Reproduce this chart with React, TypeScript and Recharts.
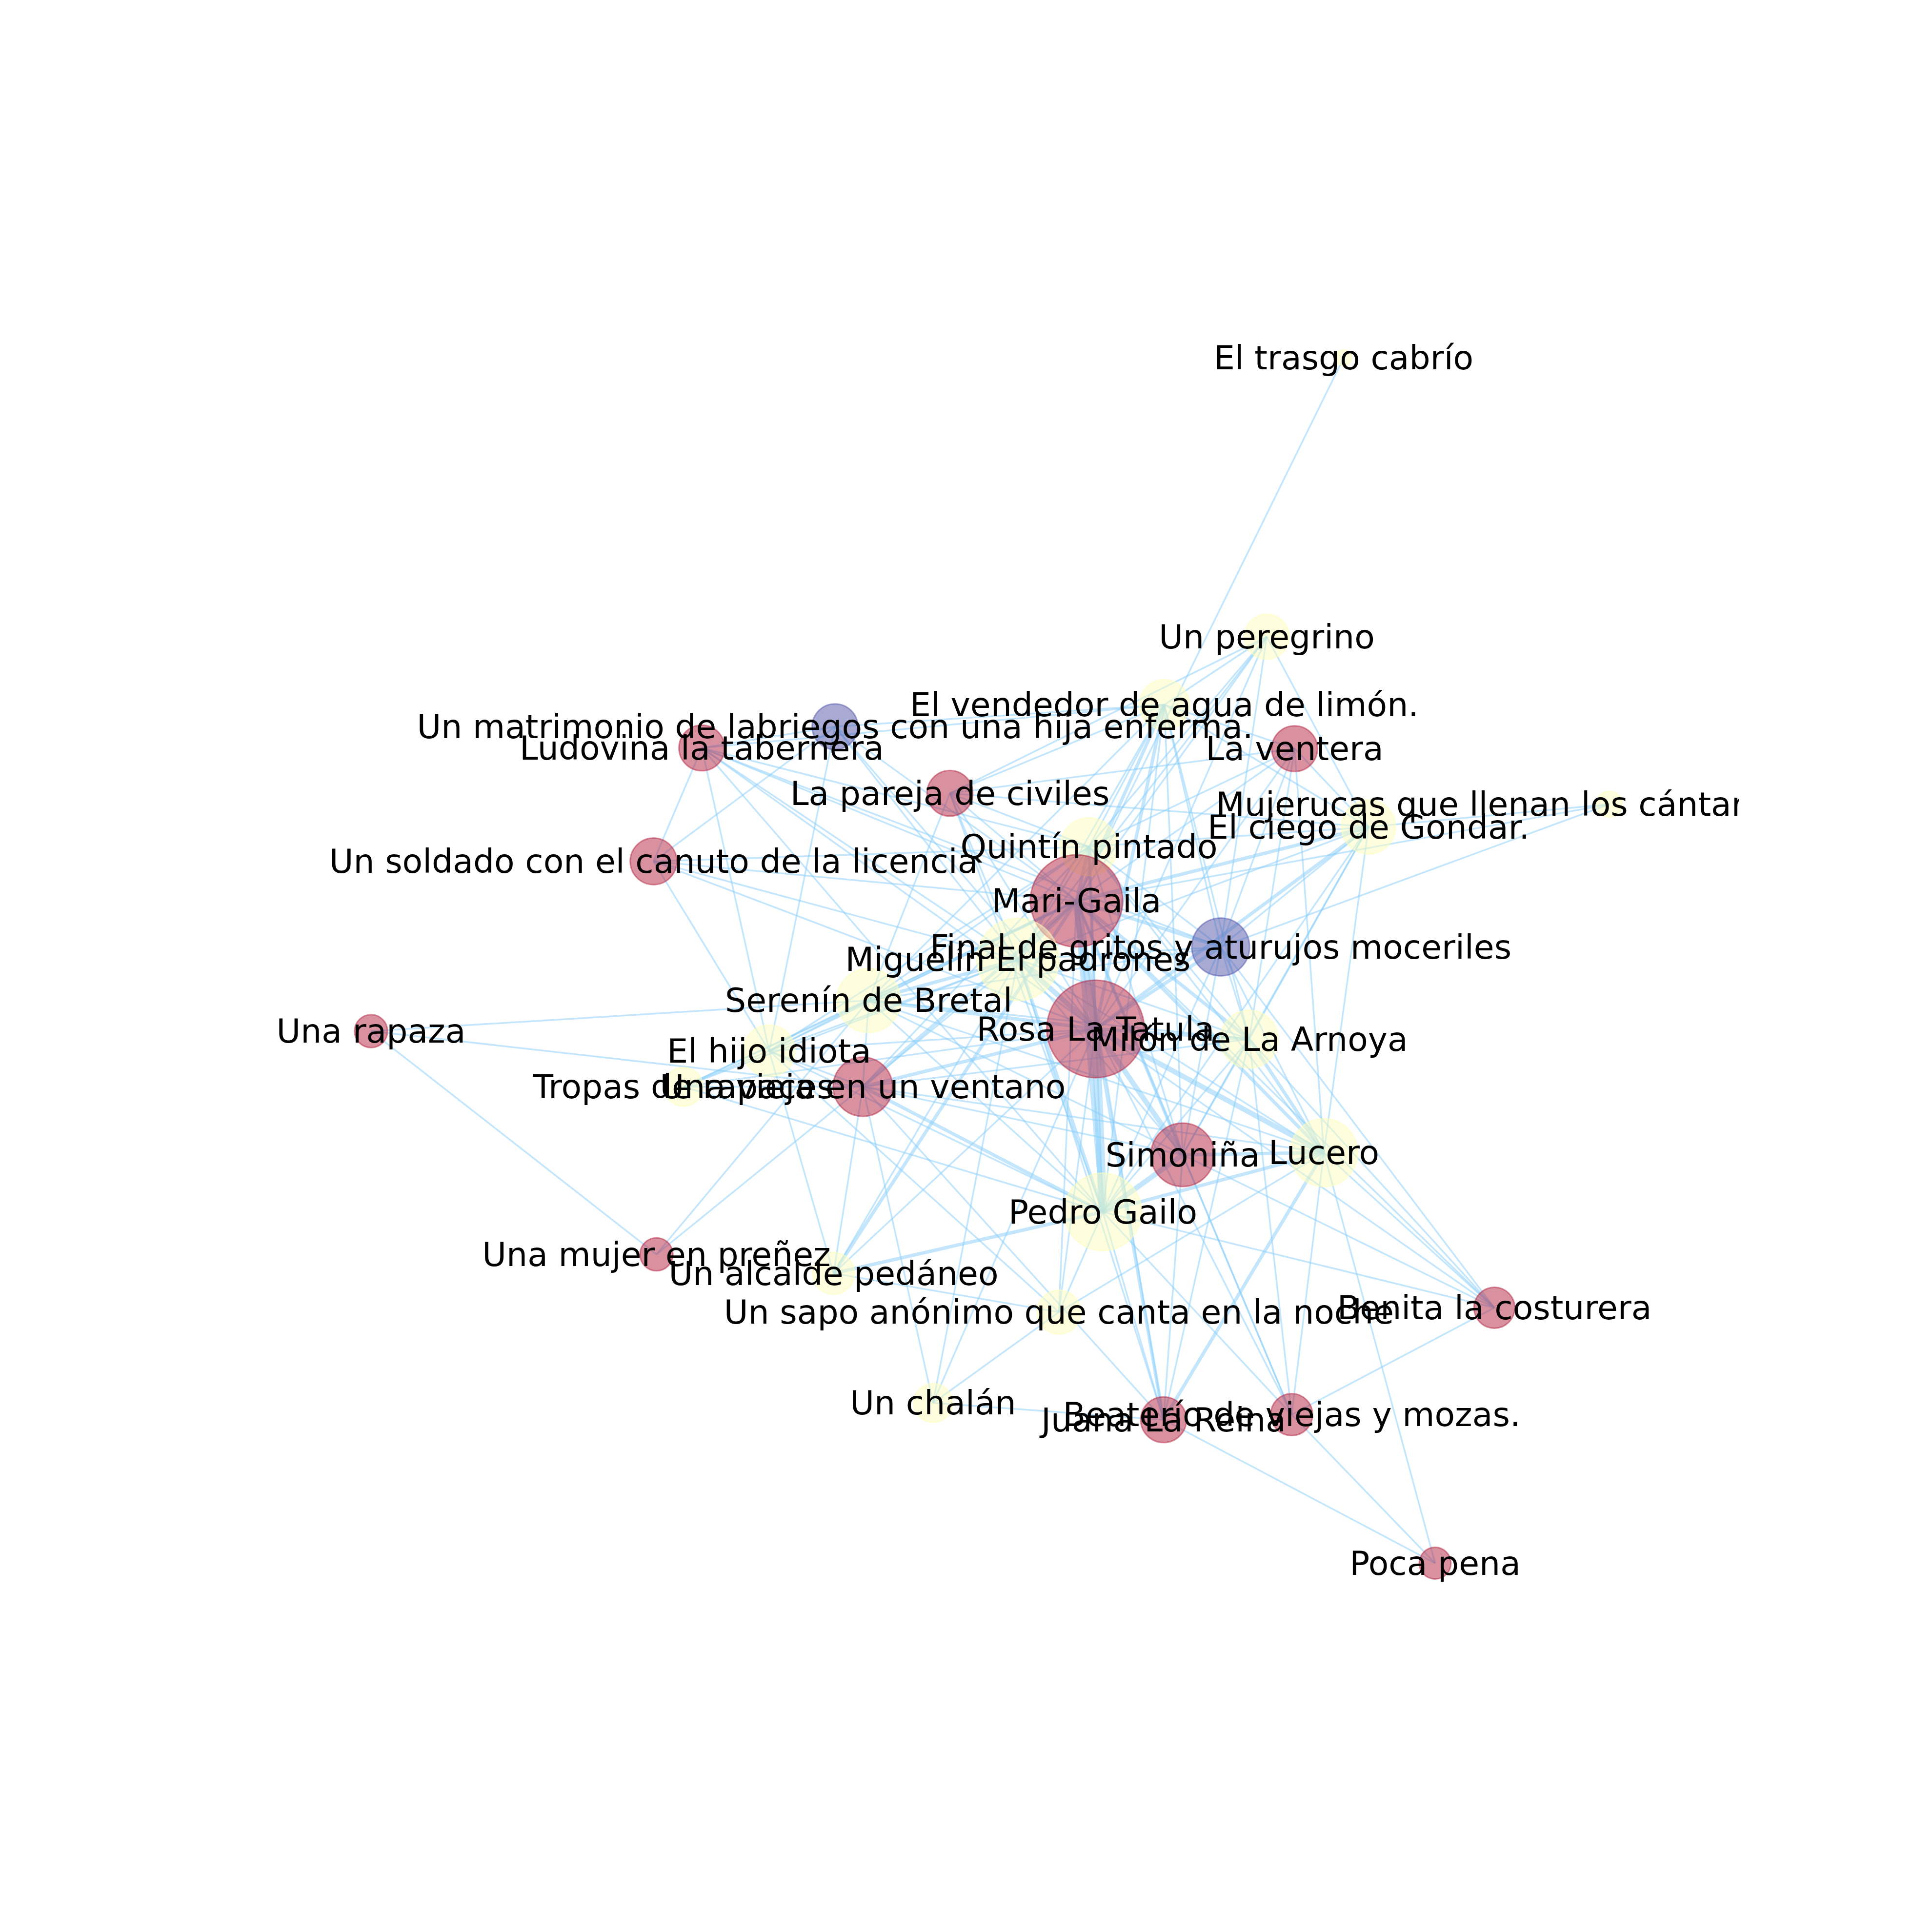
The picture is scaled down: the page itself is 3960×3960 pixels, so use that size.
import { ScatterChart, Scatter, XAxis, YAxis, ZAxis } from "recharts";

// character network: node ids, labels, layout position, weight and group
const nodeIds = [
  "TR", "PE", "VE", "MA", "LU", "VN", "PA", "MJ", "CI", "QU", "SO", "MG", "FI", "MI", "SE", "RA",
  "RO", "ML", "HI", "TP", "VI", "SI", "LC", "PG", "PR", "AL", "BE", "SA", "CH", "JU", "BT", "PP",
];

const nodeNames = [
  "El trasgo cabrío",
  "Un peregrino",
  "El vendedor de agua de limón.",
  "Un matrimonio de labriegos con una hija enferma.",
  "Ludovina la tabernera",
  "La ventera",
  "La pareja de civiles",
  "Mujerucas que llenan los cántaros en la fuente.",
  "El ciego de Gondar.",
  "Quintín pintado",
  "Un soldado con el canuto de la licencia",
  "Mari-Gaila",
  "Final de gritos y aturujos moceriles",
  "Miguelín El padrones",
  "Serenín de Bretal",
  "Una rapaza",
  "Rosa La Tatula",
  "Milón de La Arnoya",
  "El hijo idiota",
  "Tropas de rapaces",
  "Una vieja en un ventano",
  "Simoniña",
  "Lucero",
  "Pedro Gailo",
  "Una mujer en preñez",
  "Un alcalde pedáneo",
  "Benita la costurera",
  "Un sapo anónimo que canta en la noche",
  "Un chalán",
  "Juana La Reina",
  "Beaterío de viejas y mozas.",
  "Poca pena",
];

const nodeX = [
  0.516, 0.411, 0.271, -0.179, -0.361, 0.449, -0.022, 0.879, 0.55, 0.168, -0.427, 0.151, 0.348, 0.071, -0.133, -0.813,
  0.177, 0.387, -0.269, -0.386, -0.141, 0.296, 0.489, 0.187, -0.423, -0.181, 0.722, 0.127, -0.045, 0.27, 0.445, 0.641,
];

const nodeY = [
  0.831, 0.45, 0.357, 0.327, 0.298, 0.297, 0.236, 0.221, 0.19, 0.163, 0.143, 0.089, 0.026, 0.009, -0.047, -0.089,
  -0.086, -0.1, -0.116, -0.165, -0.165, -0.258, -0.255, -0.336, -0.394, -0.42, -0.467, -0.473, -0.597, -0.62, -0.613, -0.816,
];

const nodeWeight = [
  3, 24, 30, 25, 25, 25, 25, 8, 35, 40, 26, 102, 40, 81, 49, 13,
  114, 40, 32, 18, 42, 48, 55, 72, 13, 21, 20, 23, 18, 25, 21, 12,
];

const nodeGroup = [
  "hombre", "hombre", "hombre", "grupo", "mujer", "mujer", "mujer", "hombre", "hombre", "hombre", "mujer", "mujer", "grupo", "hombre", "hombre", "mujer",
  "mujer", "hombre", "hombre", "hombre", "mujer", "mujer", "hombre", "hombre", "mujer", "hombre", "mujer", "hombre", "hombre", "mujer", "mujer", "mujer",
];

// [source, target, co-occurrence weight]
const edges: [string, string, number][] = [
  ["TR", "MG", 1],
  ["PE", "VE", 1], ["PE", "PA", 1], ["PE", "CI", 1], ["PE", "MG", 1], ["PE", "QU", 1], ["PE", "RO", 1], ["PE", "FI", 1], ["PE", "MI", 1],
  ["VE", "MG", 2], ["VE", "RO", 2], ["VE", "QU", 1], ["VE", "PG", 1], ["VE", "MI", 1], ["VE", "SI", 1], ["VE", "ML", 1], ["VE", "FI", 1],
  ["VE", "PA", 1], ["VE", "MA", 1], ["VE", "VN", 1], ["VE", "CI", 1], ["VE", "LU", 1], ["VE", "SE", 1],
  ["MA", "LU", 1], ["MA", "SO", 1], ["MA", "HI", 1], ["MA", "MG", 1], ["MA", "RO", 1], ["MA", "MI", 1],
  ["LU", "SO", 1], ["LU", "HI", 1], ["LU", "MG", 1], ["LU", "RO", 1], ["LU", "QU", 1], ["LU", "MI", 1], ["LU", "PG", 1], ["LU", "FI", 1],
  ["VN", "CI", 1], ["VN", "MG", 1], ["VN", "RO", 1], ["VN", "ML", 1], ["VN", "LC", 1], ["VN", "FI", 1], ["VN", "QU", 1], ["VN", "PA", 1],
  ["PA", "MG", 1], ["PA", "RO", 1], ["PA", "QU", 1], ["PA", "MI", 1], ["PA", "PG", 1], ["PA", "CI", 1], ["PA", "SE", 1],
  ["MJ", "CI", 1], ["MJ", "FI", 1], ["MJ", "MG", 1],
  ["CI", "MG", 2], ["CI", "RO", 2], ["CI", "QU", 1], ["CI", "FI", 1], ["CI", "ML", 1], ["CI", "LC", 1], ["CI", "PG", 1], ["CI", "SI", 1], ["CI", "MI", 1],
  ["QU", "MG", 2], ["QU", "RO", 2], ["QU", "MI", 1], ["QU", "PG", 1], ["QU", "SE", 1], ["QU", "SI", 1], ["QU", "ML", 1], ["QU", "FI", 1],
  ["QU", "LC", 1], ["QU", "VI", 1], ["QU", "HI", 1],
  ["SO", "HI", 1], ["SO", "MG", 1], ["SO", "RO", 1], ["SO", "MI", 1], ["SO", "QU", 1],
  ["MG", "RO", 5], ["MG", "PG", 3], ["MG", "MI", 2], ["MG", "SE", 2], ["MG", "SI", 2], ["MG", "ML", 2], ["MG", "LC", 2], ["MG", "FI", 2],
  ["MG", "VI", 2], ["MG", "AL", 2], ["MG", "HI", 1], ["MG", "TP", 1], ["MG", "JU", 1], ["MG", "BT", 1], ["MG", "SA", 1], ["MG", "BE", 1],
  ["FI", "RO", 2], ["FI", "ML", 1], ["FI", "LC", 1], ["FI", "PG", 1], ["FI", "SI", 1], ["FI", "MI", 1], ["FI", "SE", 1], ["FI", "BE", 1],
  ["MI", "RO", 3], ["MI", "PG", 2], ["MI", "SE", 2], ["MI", "SI", 1], ["MI", "ML", 1], ["MI", "LC", 1], ["MI", "HI", 1], ["MI", "VI", 1],
  ["MI", "TP", 1], ["MI", "AL", 1], ["MI", "CH", 1], ["MI", "JU", 1],
  ["SE", "RA", 1], ["SE", "RO", 2], ["SE", "PG", 1], ["SE", "HI", 1], ["SE", "VI", 1], ["SE", "TP", 1], ["SE", "SI", 1], ["SE", "LC", 1],
  ["SE", "PR", 1], ["SE", "ML", 1],
  ["RA", "VI", 1], ["RA", "PR", 1],
  ["RO", "PG", 5], ["RO", "SI", 3], ["RO", "ML", 2], ["RO", "LC", 3], ["RO", "VI", 2], ["RO", "HI", 1], ["RO", "TP", 1], ["RO", "AL", 1],
  ["RO", "JU", 2], ["RO", "BT", 1], ["RO", "BE", 1], ["RO", "SA", 1], ["RO", "CH", 1],
  ["ML", "PG", 1], ["ML", "SI", 1], ["ML", "LC", 2], ["ML", "JU", 1], ["ML", "BT", 1], ["ML", "BE", 1], ["ML", "VI", 1],
  ["HI", "VI", 1], ["HI", "TP", 1], ["HI", "PG", 1], ["HI", "SA", 1], ["HI", "AL", 1],
  ["TP", "VI", 1], ["TP", "PG", 1],
  ["VI", "PG", 2], ["VI", "SI", 1], ["VI", "LC", 1], ["VI", "JU", 1], ["VI", "CH", 1], ["VI", "AL", 1], ["VI", "PR", 1],
  ["SI", "PG", 3], ["SI", "LC", 2], ["SI", "JU", 1], ["SI", "BT", 1], ["SI", "BE", 1],
  ["LC", "PG", 2], ["LC", "JU", 2], ["LC", "BT", 1], ["LC", "BE", 1], ["LC", "PP", 1], ["LC", "SA", 1],
  ["PG", "AL", 2], ["PG", "SA", 1], ["PG", "BE", 1], ["PG", "JU", 1], ["PG", "BT", 1],
  ["AL", "SA", 1], ["SA", "CH", 1], ["CH", "JU", 1], ["JU", "PP", 1], ["BT", "BE", 1], ["BT", "PP", 1],
];

const groupColor: Record<string, string> = {
  mujer: "#B32341",
  hombre: "#FDFDBD",
  grupo: "#5155A9",
};

const nodes = nodeIds.map((id, i) => ({
  id,
  name: nodeNames[i],
  x: nodeX[i],
  y: nodeY[i],
  z: nodeWeight[i],
  group: nodeGroup[i],
}));
const byId: Record<string, any> = Object.fromEntries(nodes.map((n) => [n.id, n]));

const NodeShape = (props: any) => {
  const { cx, cy, width, payload } = props;
  const c = groupColor[payload.group];
  return (
    <circle cx={cx} cy={cy} r={width / 2} fill={c} fillOpacity={0.5} stroke={c} strokeOpacity={0.5} strokeWidth={3} />
  );
};

// labels are clipped to the (invisible) axes box, like the original
const LabelShape = (props: any) => {
  const { cx, cy, payload } = props;
  const clipId = `lbl-clip-${payload.id}`;
  return (
    <g>
      <defs>
        <clipPath id={clipId}>
          <rect x={495} y={475} width={3069} height={3049} />
        </clipPath>
      </defs>
      <text
        x={cx}
        y={cy}
        textAnchor="middle"
        dominantBaseline="central"
        fontFamily="DejaVu Sans"
        fontSize={68}
        fill="#000"
        clipPath={`url(#${clipId})`}
      >
        {payload.name}
      </text>
    </g>
  );
};

const Empty = () => <g />;

export default function App() {
  return (
    <div style={{ position: "absolute", left: 0, top: 0, width: 3960, height: 3960, background: "#fff" }}>
      <ScatterChart width={3960} height={3960} margin={{ top: 0, right: 0, bottom: 0, left: 0 }}>
        <XAxis type="number" dataKey="x" domain={[-1.32, 1.32]} hide />
        <YAxis type="number" dataKey="y" domain={[-1.32, 1.32]} hide />
        <ZAxis type="number" dataKey="z" domain={[0, 100]} range={[0, 31416]} />
        {edges.map(([a, b, w], i) => (
          <Scatter
            key={`edge-${i}`}
            data={[byId[a], byId[b]]}
            fill="none"
            line={{ stroke: "#87CEFA", strokeWidth: w * 3.5, strokeOpacity: 0.5 }}
            shape={Empty}
            legendType="none"
            isAnimationActive={false}
          />
        ))}
        <Scatter data={nodes} shape={NodeShape} isAnimationActive={false} />
        <Scatter data={nodes} shape={LabelShape} isAnimationActive={false} />
      </ScatterChart>
    </div>
  );
}
